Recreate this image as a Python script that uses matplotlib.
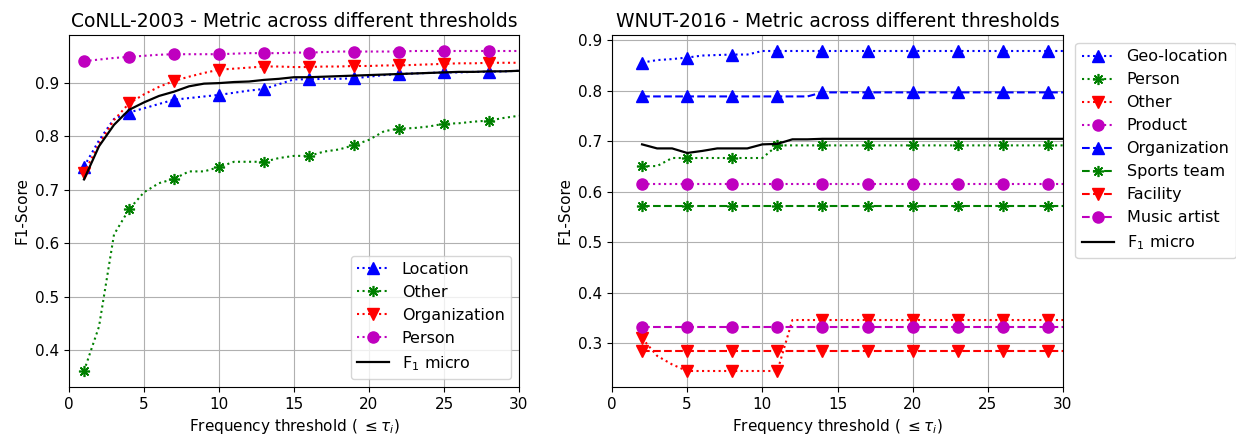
import matplotlib
matplotlib.use("Agg")
import matplotlib.pyplot as plt
import numpy as np

# ---------------- CoNLL-2003 ----------------
conll_x = list(range(1, 31))
conll_location = [0.743, 0.792, 0.832, 0.844, 0.852, 0.860, 0.868, 0.871, 0.874, 0.877,
                  0.881, 0.885, 0.888, 0.897, 0.906, 0.906, 0.907, 0.907, 0.908, 0.911,
                  0.914, 0.916, 0.917, 0.918, 0.919, 0.919, 0.920, 0.920, 0.921, 0.922]
conll_other = [0.361, 0.444, 0.616, 0.663, 0.695, 0.712, 0.720, 0.734, 0.734, 0.742,
               0.752, 0.752, 0.752, 0.759, 0.763, 0.763, 0.771, 0.775, 0.783, 0.793,
               0.809, 0.814, 0.815, 0.818, 0.823, 0.824, 0.827, 0.829, 0.834, 0.838]
conll_organization = [0.731, 0.785, 0.830, 0.861, 0.878, 0.892, 0.903, 0.911, 0.918, 0.924,
                      0.926, 0.928, 0.930, 0.930, 0.929, 0.929, 0.930, 0.930, 0.931, 0.931,
                      0.932, 0.932, 0.933, 0.934, 0.935, 0.936, 0.936, 0.937, 0.937, 0.937]
conll_person = [0.940, 0.943, 0.946, 0.948, 0.950, 0.952, 0.953, 0.953, 0.953, 0.953,
                0.954, 0.955, 0.955, 0.955, 0.956, 0.956, 0.957, 0.958, 0.958, 0.958,
                0.958, 0.958, 0.959, 0.959, 0.959, 0.959, 0.959, 0.959, 0.959, 0.959]
conll_f1 = [0.719, 0.781, 0.821, 0.849, 0.863, 0.875, 0.883, 0.893, 0.898, 0.899,
            0.901, 0.902, 0.905, 0.907, 0.910, 0.910, 0.911, 0.912, 0.913, 0.914,
            0.915, 0.916, 0.917, 0.918, 0.919, 0.920, 0.920, 0.921, 0.921, 0.922]

# ---------------- WNUT-2016 ----------------
wnut_x = list(range(2, 31))
wnut_geo = [0.856, 0.861, 0.863, 0.866, 0.870, 0.871, 0.872, 0.872] + [0.879] * 21
wnut_person = [0.651, 0.651] + [0.667] * 7 + [0.692] * 20
wnut_other = [0.310, 0.275, 0.258] + [0.245] * 7 + [0.346] * 19
wnut_product = [0.615] * 29
wnut_organization = [0.789] * 12 + [0.797] * 17
wnut_sports = [0.572] * 29
wnut_facility = [0.285] * 29
wnut_music = [0.333] * 29
wnut_f1 = [0.694, 0.686, 0.686, 0.677, 0.681, 0.686, 0.686, 0.686, 0.694, 0.695,
           0.704, 0.704] + [0.705] * 17

W, H = 1236, 438
fig = plt.figure(figsize=(W / 100, H / 100), dpi=100)
ax1 = fig.add_axes([69 / W, 1 - 387 / H, 450 / W, 352 / H])
ax2 = fig.add_axes([612 / W, 1 - 387 / H, 451 / W, 352 / H])

ast = (8, 2, 0)
ms = 8
lw = 1.5
kw_star = dict(markersize=ms, markeredgewidth=1.2)

ax1.plot(conll_x, conll_location, ':', color='b', marker='^', markersize=ms, markevery=3, lw=lw, label='Location')
ax1.plot(conll_x, conll_other, ':', color='g', marker=ast, markevery=3, lw=lw, label='Other', **kw_star)
ax1.plot(conll_x, conll_organization, ':', color='r', marker='v', markersize=ms, markevery=3, lw=lw, label='Organization')
ax1.plot(conll_x, conll_person, ':', color='m', marker='o', markersize=ms, markevery=3, lw=lw, label='Person')
ax1.plot(conll_x, conll_f1, '-', color='k', lw=1.6, label='F$_1$ micro')
ax1.set_xlim(0, 30)
ax1.grid(True)
ax1.set_title('CoNLL-2003 - Metric across different thresholds')
ax1.set_xlabel(r'Frequency threshold ( $\leq \tau_i$)')
ax1.set_ylabel('F1-Score')
ax1.legend(loc='lower right', fontsize=11.5)

ax2.plot(wnut_x, wnut_geo, ':', color='b', marker='^', markersize=ms, markevery=3, lw=lw, label='Geo-location')
ax2.plot(wnut_x, wnut_person, ':', color='g', marker=ast, markevery=3, lw=lw, label='Person', **kw_star)
ax2.plot(wnut_x, wnut_other, ':', color='r', marker='v', markersize=ms, markevery=3, lw=lw, label='Other')
ax2.plot(wnut_x, wnut_product, ':', color='m', marker='o', markersize=ms, markevery=3, lw=lw, label='Product')
ax2.plot(wnut_x, wnut_organization, '--', color='b', marker='^', markersize=ms, markevery=3, lw=lw, label='Organization')
ax2.plot(wnut_x, wnut_sports, '--', color='g', marker=ast, markevery=3, lw=lw, label='Sports team', **kw_star)
ax2.plot(wnut_x, wnut_facility, '--', color='r', marker='v', markersize=ms, markevery=3, lw=lw, label='Facility')
ax2.plot(wnut_x, wnut_music, '--', color='m', marker='o', markersize=ms, markevery=3, lw=lw, label='Music artist')
ax2.plot(wnut_x, wnut_f1, '-', color='k', lw=1.6, label='F$_1$ micro')
ax2.set_xlim(0, 30)
ax2.grid(True)
ax2.set_title('WNUT-2016 - Metric across different thresholds')
ax2.set_xlabel(r'Frequency threshold ( $\leq \tau_i$)')
ax2.set_ylabel('F1-Score')
ax2.legend(loc='upper left', bbox_to_anchor=(1.01, 1.0), fontsize=11.5)

for ax in (ax1, ax2):
    ax.tick_params(labelsize=11)
    ax.title.set_fontsize(13.5)
    ax.xaxis.label.set_fontsize(11)
    ax.yaxis.label.set_fontsize(11)

fig.savefig('out.png', dpi=100)
